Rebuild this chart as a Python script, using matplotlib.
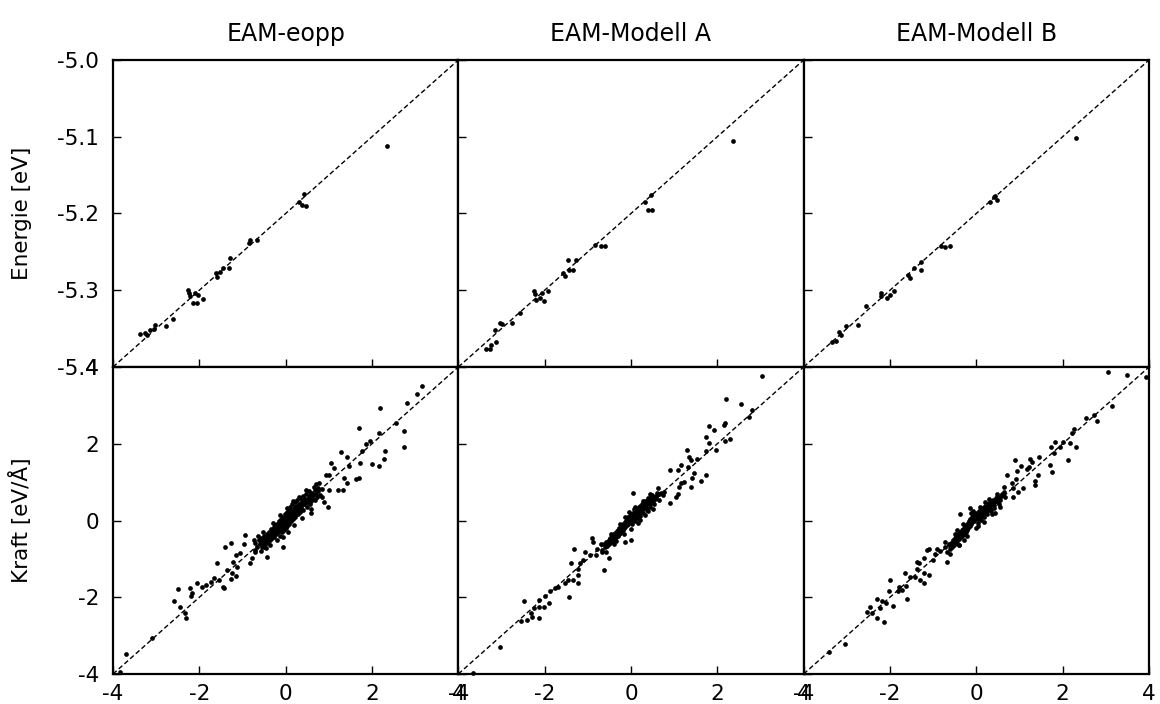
import matplotlib
matplotlib.use('Agg')
import matplotlib.pyplot as plt

plt.rcParams['font.family'] = 'DejaVu Sans'
plt.rcParams['axes.unicode_minus'] = False

titles = ['EAM-eopp', 'EAM-Modell A', 'EAM-Modell B']

# Energie: (Referenz, Modell) in eV
energy_eopp = [
    (-5.369, -5.357), (-5.363, -5.356), (-5.361, -5.358), (-5.357, -5.352), (-5.353, -5.350),
    (-5.351, -5.345), (-5.339, -5.347), (-5.330, -5.337), (-5.313, -5.300), (-5.312, -5.304),
    (-5.311, -5.308), (-5.307, -5.316), (-5.303, -5.317), (-5.305, -5.303), (-5.301, -5.306),
    (-5.296, -5.312), (-5.281, -5.278), (-5.279, -5.283), (-5.276, -5.276), (-5.272, -5.271),
    (-5.266, -5.271), (-5.265, -5.258), (-5.243, -5.239), (-5.241, -5.235), (-5.233, -5.234),
    (-5.185, -5.185), (-5.181, -5.189), (-5.177, -5.190), (-5.179, -5.174), (-5.083, -5.112),
]
energy_a = [
    (-5.368, -5.377), (-5.363, -5.376), (-5.362, -5.371), (-5.356, -5.368), (-5.357, -5.352),
    (-5.352, -5.343), (-5.349, -5.344), (-5.338, -5.343), (-5.328, -5.329), (-5.312, -5.301),
    (-5.311, -5.305), (-5.310, -5.313), (-5.305, -5.310), (-5.301, -5.314), (-5.303, -5.303),
    (-5.296, -5.301), (-5.279, -5.278), (-5.277, -5.281), (-5.273, -5.261), (-5.272, -5.273),
    (-5.267, -5.273), (-5.264, -5.261), (-5.242, -5.241), (-5.235, -5.243), (-5.230, -5.242),
    (-5.184, -5.185), (-5.177, -5.176), (-5.180, -5.195), (-5.176, -5.195), (-5.082, -5.106),
]
energy_b = [
    (-5.367, -5.367), (-5.363, -5.366), (-5.357, -5.358), (-5.359, -5.355), (-5.351, -5.347),
    (-5.337, -5.345), (-5.328, -5.321), (-5.310, -5.304), (-5.310, -5.308), (-5.304, -5.310),
    (-5.300, -5.306), (-5.295, -5.301), (-5.279, -5.280), (-5.277, -5.284), (-5.272, -5.271),
    (-5.264, -5.274), (-5.264, -5.263), (-5.241, -5.242), (-5.236, -5.244), (-5.230, -5.242),
    (-5.184, -5.185), (-5.179, -5.179), (-5.176, -5.182), (-5.178, -5.177), (-5.084, -5.101),
]

# Kraft: (Referenz, Modell) in eV/Å
force_eopp = [
    (3.16, 3.50), (3.05, 3.30), (2.81, 3.05), (2.56, 2.55), (2.19, 2.92), (2.74, 2.33),
    (2.75, 1.92), (2.31, 1.81), (2.28, 1.59), (2.17, 1.42), (1.99, 1.46), (2.16, 2.27),
    (1.96, 2.07), (1.86, 1.99), (1.71, 2.40), (1.78, 1.81), (1.73, 1.49), (1.71, 1.10),
    (1.63, 1.07), (1.43, 1.66), (1.47, 1.42), (1.28, 1.79), (1.36, 1.10), (1.42, 0.97),
    (1.34, 0.80), (1.22, 0.80), (1.12, 1.36), (1.05, 1.49), (1.01, 1.19), (0.93, 1.19),
    (1.01, 0.80), (0.97, 0.36), (0.88, 0.49), (0.85, 0.62), (0.58, 0.19), (-0.05, -0.68),
    (-0.43, -0.94), (-0.50, -0.68), (-0.70, -0.81), (-0.83, -1.12), (-0.74, -0.51),
    (-0.78, -0.99), (-0.95, -0.38), (-0.97, -0.60), (-1.05, -0.84), (-1.14, -0.90),
    (-1.26, -0.58), (-1.40, -0.70), (-1.21, -1.07), (-1.12, -1.20), (-1.24, -1.38),
    (-1.37, -1.29), (-1.26, -1.52), (-1.16, -1.45), (-1.60, -1.10), (-1.67, -1.51),
    (-1.74, -1.59), (-1.84, -1.68), (-1.94, -1.72), (-2.05, -1.64), (-2.17, -1.90),
    (-2.22, -1.77), (-2.19, -1.98), (-2.50, -1.78), (-2.58, -2.10), (-2.44, -2.25),
    (-2.33, -2.42), (-2.31, -2.55), (-1.42, -1.77), (-1.45, -1.72), (-1.55, -1.55),
    (-3.10, -3.07), (-3.71, -3.48), (-3.84, -3.94),
    (-0.66, -0.68), (-0.62, -0.52), (-0.60, -0.62), (-0.57, -0.45), (-0.55, -0.70),
    (-0.53, -0.56), (-0.50, -0.40), (-0.48, -0.62), (-0.46, -0.50), (-0.44, -0.34),
    (-0.42, -0.58), (-0.40, -0.44), (-0.38, -0.30), (-0.37, -0.52), (-0.35, -0.38),
    (-0.33, -0.22), (-0.32, -0.46), (-0.30, -0.32), (-0.28, -0.18), (-0.27, -0.42),
    (-0.25, -0.28), (-0.24, -0.12), (-0.22, -0.36), (-0.21, -0.22), (-0.19, -0.08),
    (-0.18, -0.30), (-0.16, -0.16), (-0.15, -0.02), (-0.14, -0.40), (-0.13, -0.24),
    (-0.11, -0.10), (-0.10, 0.04), (-0.09, -0.30), (-0.08, -0.18), (-0.06, -0.04),
    (-0.05, 0.10), (-0.04, -0.24), (-0.03, -0.12), (-0.02, 0.02), (-0.01, 0.16),
    (0.00, -0.20), (0.01, -0.06), (0.02, 0.08), (0.03, 0.22), (0.04, -0.14),
    (0.05, 0.00), (0.06, 0.14), (0.07, 0.30), (0.08, -0.08), (0.09, 0.06),
    (0.10, 0.20), (0.11, 0.36), (0.12, -0.02), (0.13, 0.12), (0.14, 0.26),
    (0.15, 0.42), (0.17, 0.04), (0.18, 0.18), (0.19, 0.32), (0.21, 0.48),
    (0.22, 0.10), (0.23, 0.24), (0.25, 0.38), (0.26, 0.54), (0.28, 0.16),
    (0.29, 0.30), (0.31, 0.44), (0.33, 0.58), (0.34, 0.22), (0.36, 0.36),
    (0.38, 0.50), (0.40, 0.64), (0.41, 0.28), (0.43, 0.42), (0.45, 0.56),
    (0.47, 0.70), (0.49, 0.34), (0.51, 0.48), (0.53, 0.62), (0.55, 0.76),
    (0.57, 0.44), (0.60, 0.58), (0.62, 0.72), (0.65, 0.86), (0.68, 0.54),
    (0.71, 0.70), (0.74, 0.84), (0.78, 0.97), (0.80, 0.66), (0.84, 0.82),
    (-0.72, -0.58), (-0.70, -0.78), (-0.64, -0.40), (-0.58, -0.80), (-0.52, -0.30),
    (-0.45, -0.72), (-0.36, -0.64), (-0.29, -0.06), (-0.20, -0.52), (-0.12, 0.14),
    (-0.07, -0.44), (0.02, 0.32), (0.06, -0.30), (0.16, 0.50), (0.20, -0.12),
    (0.30, 0.62), (0.37, 0.06), (0.46, 0.80), (0.58, 0.30), (0.70, 0.96),
    (-0.56, -0.58), (-0.49, -0.52), (-0.43, -0.46), (-0.39, -0.36), (-0.34, -0.30),
    (-0.31, -0.26), (-0.26, -0.34), (-0.23, -0.20), (-0.20, -0.30), (-0.17, -0.10),
    (-0.14, -0.18), (-0.11, -0.02), (-0.08, -0.10), (-0.05, -0.16), (-0.03, 0.00),
    (0.00, 0.06), (0.03, 0.12), (0.05, -0.02), (0.08, 0.20), (0.10, 0.10),
    (0.13, 0.04), (0.16, 0.16), (0.19, 0.26), (0.22, 0.36), (0.24, 0.18),
    (0.27, 0.26), (0.30, 0.36), (0.33, 0.44), (0.36, 0.30), (0.39, 0.42),
    (0.42, 0.56), (0.45, 0.44), (0.48, 0.52), (0.52, 0.56), (0.56, 0.66),
    (0.59, 0.50), (0.64, 0.66), (0.69, 0.80), (0.73, 0.62), (0.76, 0.76),
]
force_a = [
    (3.04, 3.77), (2.21, 3.16), (2.56, 3.03), (2.81, 2.88), (2.74, 2.69), (2.17, 2.53),
    (2.16, 2.49), (1.80, 2.46), (1.93, 2.36), (1.73, 2.18), (1.81, 2.03), (2.29, 2.12),
    (2.17, 2.07), (1.98, 1.84), (1.73, 1.82), (1.29, 1.85), (1.35, 1.66), (1.53, 1.59),
    (1.39, 1.58), (1.33, 1.40), (1.17, 1.45), (1.08, 1.32), (1.73, 1.19), (1.62, 1.04),
    (1.46, 1.23), (1.42, 1.10), (1.39, 0.88), (1.23, 1.01), (1.16, 0.98), (1.12, 0.86),
    (1.08, 0.69), (1.04, 0.60), (0.90, 0.46), (0.91, 1.32), (0.04, 0.71), (0.00, -0.51),
    (-0.15, -0.55), (-0.62, -1.29), (-0.50, -0.99), (-0.68, -0.81), (-0.79, -0.75),
    (-0.81, -0.90), (-0.91, -0.46), (-0.89, -0.55), (-0.96, -0.90), (-1.06, -0.81),
    (-1.10, -1.03), (-1.17, -1.12), (-1.22, -1.27), (-1.33, -0.75), (-1.39, -1.10),
    (-1.23, -1.42), (-1.23, -1.62), (-1.35, -1.55), (-1.46, -1.55), (-1.54, -1.62),
    (-1.43, -2.00), (-1.68, -1.72), (-1.77, -1.77), (-1.87, -1.83), (-1.99, -1.97),
    (-1.91, -2.14), (-2.02, -2.26), (-2.14, -2.07), (-2.14, -2.55), (-2.12, -2.26),
    (-2.24, -2.29), (-2.31, -2.40), (-2.40, -2.59), (-2.47, -2.09), (-2.54, -2.61),
    (-2.29, -2.52), (-3.04, -3.30), (-3.66, -3.98),
    (-0.66, -0.77), (-0.62, -0.60), (-0.60, -0.70), (-0.57, -0.55), (-0.55, -0.66),
    (-0.52, -0.50), (-0.50, -0.62), (-0.48, -0.46), (-0.46, -0.56), (-0.44, -0.40),
    (-0.42, -0.52), (-0.40, -0.36), (-0.38, -0.48), (-0.36, -0.32), (-0.35, -0.44),
    (-0.33, -0.28), (-0.31, -0.40), (-0.30, -0.24), (-0.28, -0.36), (-0.27, -0.20),
    (-0.25, -0.32), (-0.24, -0.16), (-0.22, -0.28), (-0.21, -0.12), (-0.19, -0.24),
    (-0.18, -0.08), (-0.16, -0.20), (-0.15, -0.04), (-0.13, -0.16), (-0.12, 0.00),
    (-0.10, -0.12), (-0.09, 0.04), (-0.07, -0.08), (-0.06, 0.08), (-0.04, -0.04),
    (-0.03, 0.12), (-0.01, 0.00), (0.00, 0.16), (0.02, 0.04), (0.03, -0.10),
    (0.05, 0.08), (0.06, 0.22), (0.08, 0.12), (0.09, -0.02), (0.11, 0.16),
    (0.12, 0.28), (0.14, 0.20), (0.15, 0.06), (0.17, 0.24), (0.18, 0.34),
    (0.20, 0.28), (0.21, 0.12), (0.23, 0.32), (0.25, 0.42), (0.26, 0.36),
    (0.28, 0.20), (0.30, 0.40), (0.32, 0.50), (0.34, 0.44), (0.36, 0.28),
    (0.38, 0.48), (0.40, 0.58), (0.42, 0.52), (0.44, 0.36), (0.46, 0.56),
    (0.49, 0.66), (0.52, 0.60), (0.54, 0.44), (0.57, 0.64), (0.60, 0.72),
    (0.63, 0.68), (0.66, 0.54), (0.70, 0.72), (0.74, 0.66), (0.77, 0.75),
    (-0.70, -0.62), (-0.58, -0.82), (-0.47, -0.34), (-0.39, -0.62), (-0.26, -0.08),
    (-0.17, -0.36), (-0.05, 0.22), (0.01, -0.22), (0.10, 0.34), (0.16, -0.06),
    (0.27, 0.52), (0.33, 0.14), (0.45, 0.68), (0.50, 0.30), (0.62, 0.84),
    (-0.34, -0.54), (-0.14, 0.10), (0.07, 0.30), (0.22, 0.02), (0.40, 0.24),
    (-0.58, -0.64), (-0.53, -0.58), (-0.47, -0.50), (-0.43, -0.46), (-0.37, -0.40),
    (-0.32, -0.34), (-0.29, -0.30), (-0.23, -0.22), (-0.20, -0.18), (-0.17, -0.14),
    (-0.14, -0.10), (-0.11, -0.06), (-0.08, -0.02), (-0.05, 0.02), (-0.02, 0.06),
    (0.01, 0.10), (0.04, 0.14), (0.07, 0.04), (0.10, 0.22), (0.13, 0.12),
    (0.16, 0.30), (0.19, 0.20), (0.22, 0.38), (0.24, 0.26), (0.27, 0.30),
    (0.31, 0.46), (0.35, 0.36), (0.39, 0.54), (0.43, 0.44), (0.47, 0.62),
    (0.51, 0.50), (0.55, 0.56), (0.59, 0.62), (0.65, 0.70),
]
force_b = [
    (3.04, 3.86), (3.48, 3.79), (3.93, 3.73), (3.14, 2.99), (2.79, 2.59), (2.73, 2.75),
    (2.55, 2.68), (2.27, 2.38), (2.21, 2.27), (2.31, 1.92), (2.16, 2.01), (2.13, 1.58),
    (2.00, 2.05), (1.93, 1.91), (1.83, 2.05), (1.79, 1.75), (1.73, 1.92), (1.75, 1.27),
    (1.71, 1.45), (1.46, 1.65), (1.44, 1.19), (1.36, 0.93), (1.36, 1.04), (1.29, 1.53),
    (1.25, 1.59), (1.23, 1.40), (1.17, 1.34), (1.03, 1.42), (0.90, 1.58), (0.94, 1.30),
    (0.92, 1.07), (0.72, 1.19), (0.82, 0.99), (0.85, 0.84), (0.86, 0.60), (0.63, 0.88),
    (1.08, 0.84), (0.96, 0.75), (-0.14, 0.32), (-0.37, 0.17), (-0.41, -0.64),
    (-0.68, -1.07), (-0.72, -0.55), (-0.83, -0.79), (-0.92, -0.75), (-0.95, -0.86),
    (-1.00, -1.03), (-1.10, -0.73), (-1.14, -0.77), (-1.22, -0.99), (-1.33, -1.12),
    (-1.37, -1.07), (-1.37, -1.27), (-1.22, -1.38), (-1.10, -1.42), (-1.22, -1.62),
    (-1.31, -1.55), (-1.41, -1.46), (-1.53, -1.46), (-1.66, -1.38), (-1.64, -1.71),
    (-1.72, -1.81), (-1.80, -1.73), (-1.81, -1.85), (-2.00, -1.55), (-2.03, -1.83),
    (-1.93, -2.23), (-1.60, -2.05), (-2.10, -2.14), (-2.18, -2.11), (-2.31, -2.05),
    (-2.22, -2.29), (-2.14, -2.64), (-2.30, -2.55), (-2.41, -2.42), (-2.47, -2.26),
    (-2.53, -2.38), (-3.05, -3.22), (-3.41, -3.42),
    (-0.68, -0.81), (-0.64, -0.62), (-0.62, -0.74), (-0.59, -0.58), (-0.57, -0.70),
    (-0.54, -0.52), (-0.52, -0.64), (-0.50, -0.46), (-0.48, -0.58), (-0.46, -0.40),
    (-0.44, -0.54), (-0.42, -0.36), (-0.40, -0.48), (-0.38, -0.30), (-0.36, -0.44),
    (-0.34, -0.26), (-0.32, -0.38), (-0.30, -0.22), (-0.29, -0.34), (-0.27, -0.16),
    (-0.25, -0.30), (-0.24, -0.12), (-0.22, -0.24), (-0.20, -0.06), (-0.19, -0.20),
    (-0.17, -0.02), (-0.15, -0.14), (-0.14, 0.04), (-0.12, -0.10), (-0.10, 0.08),
    (-0.09, -0.04), (-0.07, 0.12), (-0.05, 0.00), (-0.04, 0.16), (-0.02, 0.04),
    (0.00, 0.20), (0.01, 0.08), (0.03, -0.06), (0.05, 0.12), (0.06, 0.26),
    (0.08, 0.16), (0.10, 0.02), (0.12, 0.20), (0.13, 0.32), (0.15, 0.24),
    (0.17, 0.08), (0.19, 0.28), (0.21, 0.38), (0.23, 0.32), (0.25, 0.16),
    (0.27, 0.36), (0.29, 0.46), (0.31, 0.40), (0.33, 0.24), (0.35, 0.44),
    (0.38, 0.54), (0.40, 0.48), (0.42, 0.32), (0.45, 0.52), (0.48, 0.62),
    (0.51, 0.56), (0.53, 0.42), (0.56, 0.62), (0.60, 0.70), (0.63, 0.75),
    (0.66, 0.60), (-0.72, -0.70), (-0.60, -0.86), (-0.50, -0.34), (-0.41, -0.64),
    (-0.31, -0.10), (-0.21, -0.40), (-0.08, 0.24), (-0.01, -0.20), (0.09, 0.36),
    (0.18, -0.04), (0.30, 0.56), (0.36, 0.16), (0.47, 0.70), (0.55, 0.34),
    (-0.45, -0.24), (-0.28, -0.50), (-0.13, 0.20), (0.04, -0.14), (0.20, 0.48),
    (0.44, 0.20),
    (-0.61, -0.66), (-0.55, -0.60), (-0.49, -0.52), (-0.45, -0.46), (-0.39, -0.40),
    (-0.35, -0.34), (-0.31, -0.30), (-0.26, -0.24), (-0.23, -0.18), (-0.18, -0.12),
    (-0.16, -0.06), (-0.11, -0.02), (-0.08, 0.04), (-0.06, 0.06), (-0.03, 0.10),
    (0.02, 0.14), (0.04, 0.04), (0.07, 0.20), (0.11, 0.10), (0.14, 0.26),
    (0.16, 0.16), (0.20, 0.34), (0.22, 0.22), (0.26, 0.28), (0.28, 0.40),
    (0.32, 0.32), (0.37, 0.48), (0.41, 0.40), (0.46, 0.58), (0.50, 0.48),
    (0.54, 0.54), (0.58, 0.64), (0.62, 0.66),
]

energy_sets = [energy_eopp, energy_a, energy_b]
force_sets = [force_eopp, force_a, force_b]

e_lim = (-5.4, -5.0)
f_lim = (-4, 4)
e_ticks = [-5.4, -5.3, -5.2, -5.1, -5.0]
f_ticks = [-4, -2, 0, 2, 4]

fig, axes = plt.subplots(2, 3, figsize=(11.6, 7.04), dpi=100)
fig.subplots_adjust(left=0.0974, right=0.9905, top=0.9148, bottom=0.0426,
                    wspace=0, hspace=0)

for col in range(3):
    for row, (data, lim, ticks) in enumerate([(energy_sets[col], e_lim, e_ticks),
                                              (force_sets[col], f_lim, f_ticks)]):
        ax = axes[row, col]
        xs = [p[0] for p in data]
        ys = [p[1] for p in data]
        ax.plot(lim, lim, color='k', lw=1.0, ls=(0, (3.5, 2)))
        ax.plot(xs, ys, 'o', color='k', ms=3.4, mec='none', clip_on=False)
        ax.set_xlim(lim)
        ax.set_ylim(lim)
        ax.set_xticks(ticks)
        ax.set_yticks(ticks)
        if row == 0:
            ax.set_yticklabels(['%.1f' % t for t in ticks])
        ax.tick_params(direction='in', length=6, width=1, labelsize=15.5,
                       top=False, right=False)
        ax.tick_params(axis='y', pad=10)
        ax.tick_params(axis='x', pad=7)
        for s in ax.spines.values():
            s.set_linewidth(1.6)
        if row == 0:
            ax.tick_params(labelbottom=False)
            ax.set_title(titles[col], fontsize=17, pad=14)
        if col > 0:
            ax.tick_params(labelleft=False)

axes[0, 0].set_ylabel('Energie [eV]', fontsize=15.5)
axes[1, 0].set_ylabel('Kraft [eV/Å]', fontsize=15.5)
axes[0, 0].yaxis.set_label_coords(-0.235, 0.5)
axes[1, 0].yaxis.set_label_coords(-0.235, 0.5)

fig.savefig('out.png', dpi=100)
